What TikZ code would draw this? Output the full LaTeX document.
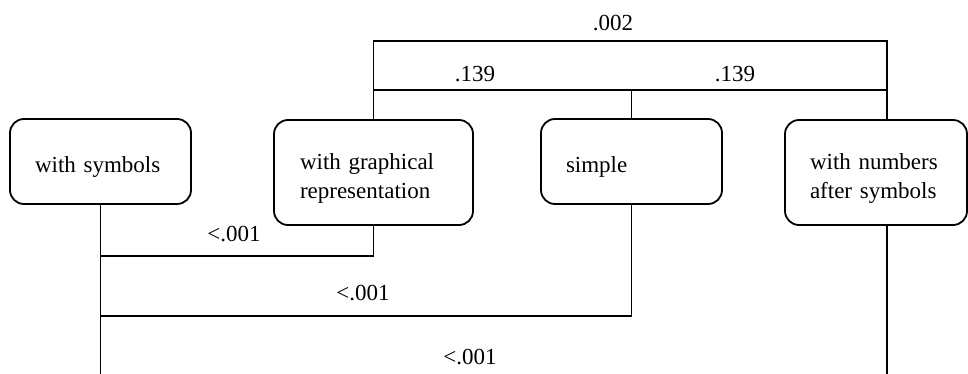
\documentclass[tikz,border=0pt]{standalone}
\usepackage{fontspec}
\setmainfont{Liberation Serif}
\newcommand{\dnstrut}{\rule{0pt}{27.5pt}}
\begin{document}
\begin{tikzpicture}[x=1pt,y=-1pt, line width=1.8pt,
  box/.style={draw, rounded corners=14pt, align=left, font=\fontsize{23}{28.5}\selectfont, inner ysep=0pt},
  lbl/.style={font=\fontsize{23}{28}\selectfont, inner sep=0pt}]
\useasboundingbox (0,0) rectangle (968,374);
\clip (0,0) rectangle (968,374);
\node[box, minimum width=181pt, minimum height=85pt, inner xsep=25pt, text width=131pt] (sym) at (100.5,161.5) {\dnstrut with symbols};
\node[box, minimum width=199pt, minimum height=105pt, inner xsep=26pt, text width=147pt] (gra) at (373.5,172.5) {\dnstrut with graphical\\representation};
\node[box, minimum width=181pt, minimum height=85pt, inner xsep=25pt, text width=131pt] (sim) at (631.5,161.5) {\dnstrut simple};
\node[box, minimum width=182pt, minimum height=105pt, inner xsep=25pt, text width=132pt] (num) at (876,172.5) {\dnstrut with numbers\\after symbols};
\coordinate (y1) at (0,41);
\coordinate (y2) at (0,90);
\coordinate (y3) at (0,256);
\coordinate (y4) at (0,316);
\coordinate (y5) at (0,381);
\coordinate (nt) at ([xshift=11pt]num.north);
\coordinate (nb) at ([xshift=11pt]num.south);
\draw (gra.north) -- (gra.north |- y1) -| (nt);
\draw (gra.north |- y2) -- (nt |- y2);
\draw (sim.north) -- (sim.north |- y2);
\draw (sym.south) -- (sym.south |- y5) -| (nb);
\draw (sym.south |- y3) -| (gra.south);
\draw (sym.south |- y4) -| (sim.south);
\node[lbl] (p1) at (613,23) {.002};
\node[lbl] (p2) at (475,74) {.139};
\node[lbl] (p3) at (735,74) {.139};
\node[lbl] (p4) at (234,234) {<.001};
\node[lbl] (p5) at (363,293) {<.001};
\node[lbl] (p6) at (470,357) {<.001};
\end{tikzpicture}
\end{document}
